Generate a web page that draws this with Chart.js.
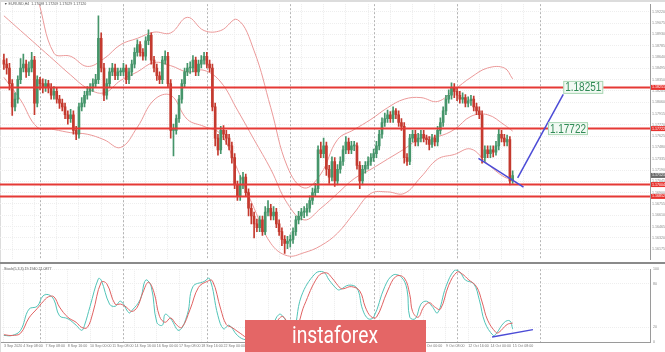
<!DOCTYPE html>
<html><head><meta charset="utf-8">
<script src="https://cdn.jsdelivr.net/npm/chart.js@4.4.1/dist/chart.umd.min.js"></script>
<style>
html,body{margin:0;padding:0;background:#fff;}
#wrap{position:relative;width:665px;height:352px;overflow:hidden;background:#fff;}
#c1{position:absolute;left:0;top:0;}
#c2{position:absolute;left:0;top:264px;}
</style></head><body>
<div id="wrap"><canvas id="c1" width="665" height="264"></canvas><canvas id="c2" width="665" height="88"></canvas></div>
<script>
// ---------- DATA ----------
const opens = [1.1860,
1.1855,1.1850,1.1830,1.1800,1.1810,1.1835, 1.1850,1.1855,1.1845,1.1850,1.1860,1.1805,
1.1835,1.1830,1.1825,1.1830,1.1825,1.1815, 1.1820,1.1810,1.1805,1.1800,1.1790,1.1785,
1.1790,1.1770,1.1765,1.1800,1.1805,1.1815, 1.1820,1.1825,1.1830,1.1835,1.1888,1.1850,
1.1815,1.1830,1.1845,1.1850,1.1840,1.1845, 1.1845,1.1850,1.1835,1.1845,1.1855,1.1870,
1.1880,1.1870,1.1865,1.1885,1.1892,1.1860, 1.1850,1.1840,1.1835,1.1860,1.1865,1.1830,
1.1770,1.1770,1.1785,1.1810,1.1830,1.1845, 1.1850,1.1850,1.1860,1.1845,1.1855,1.1860,
1.1865,1.1855,1.1850,1.1800,1.1760,1.1745, 1.1770,1.1765,1.1760,1.1750,1.1735,1.1700,
1.1685,1.1700,1.1710,1.1690,1.1670,1.1660, 1.1650,1.1645,1.1655,1.1640,1.1665,1.1670,
1.1660,1.1665,1.1650,1.1640,1.1630,1.1625, 1.1628,1.1630,1.1640,1.1655,1.1660,1.1665,
1.1665,1.1670,1.1680,1.1690,1.1695,1.1745, 1.1740,1.1750,1.1720,1.1710,1.1730,1.1705,
1.1720,1.1730,1.1745,1.1755,1.1745,1.1750, 1.1750,1.1725,1.1705,1.1720,1.1725,1.1730,
1.1735,1.1740,1.1750,1.1765,1.1780,1.1785, 1.1790,1.1785,1.1795,1.1790,1.1780,1.1775,
1.1735,1.1730,1.1760,1.1765,1.1755,1.1760, 1.1765,1.1760,1.1758,1.1752,1.1760,1.1755,
1.1770,1.1780,1.1795,1.1810,1.1815,1.1825, 1.1820,1.1815,1.1810,1.1812,1.1805,1.1808,
1.1810,1.1800,1.1795,1.1790,1.1735,1.1745, 1.1740,1.1745,1.1742,1.1750,1.1765,1.1760,
1.1755,1.1758,1.1705];
const closes = [1.1855,
1.1850,1.1830,1.1800,1.1810,1.1835,1.1850, 1.1855,1.1845,1.1850,1.1860,1.1805,1.1835,
1.1830,1.1825,1.1830,1.1825,1.1815,1.1820, 1.1810,1.1805,1.1800,1.1790,1.1785,1.1790,
1.1770,1.1765,1.1800,1.1805,1.1815,1.1820, 1.1825,1.1830,1.1835,1.1888,1.1850,1.1815,
1.1830,1.1845,1.1850,1.1840,1.1845,1.1845, 1.1850,1.1835,1.1845,1.1855,1.1870,1.1880,
1.1870,1.1865,1.1885,1.1892,1.1860,1.1850, 1.1840,1.1835,1.1860,1.1865,1.1830,1.1770,
1.1770,1.1785,1.1810,1.1830,1.1845,1.1850, 1.1850,1.1860,1.1845,1.1855,1.1860,1.1865,
1.1855,1.1850,1.1800,1.1760,1.1745,1.1770, 1.1765,1.1760,1.1750,1.1735,1.1700,1.1685,
1.1700,1.1710,1.1690,1.1670,1.1660,1.1650, 1.1645,1.1655,1.1640,1.1665,1.1670,1.1660,
1.1665,1.1650,1.1640,1.1630,1.1625,1.1628, 1.1630,1.1640,1.1655,1.1660,1.1665,1.1665,
1.1670,1.1680,1.1690,1.1695,1.1745,1.1740, 1.1750,1.1720,1.1710,1.1730,1.1705,1.1720,
1.1730,1.1745,1.1755,1.1745,1.1750,1.1750, 1.1725,1.1705,1.1720,1.1725,1.1730,1.1735,
1.1740,1.1750,1.1765,1.1780,1.1785,1.1790, 1.1785,1.1795,1.1790,1.1780,1.1775,1.1735,
1.1730,1.1760,1.1765,1.1755,1.1760,1.1765, 1.1760,1.1758,1.1752,1.1760,1.1755,1.1770,
1.1780,1.1795,1.1810,1.1815,1.1825,1.1820, 1.1815,1.1810,1.1812,1.1805,1.1808,1.1810,
1.1800,1.1795,1.1790,1.1735,1.1745,1.1740, 1.1745,1.1742,1.1750,1.1765,1.1760,1.1755,
1.1758,1.1705,1.1712];
const highs = [1.1868,
1.1862,1.1856,1.1835,1.1818,1.1840,1.1862, 1.1868,1.1860,1.1858,1.1870,1.1865,1.1840,
1.1838,1.1836,1.1835,1.1834,1.1830,1.1826, 1.1824,1.1815,1.1810,1.1805,1.1795,1.1797,
1.1795,1.1775,1.1805,1.1812,1.1820,1.1826, 1.1830,1.1836,1.1842,1.1917,1.1895,1.1856,
1.1836,1.1850,1.1856,1.1855,1.1850,1.1850, 1.1856,1.1854,1.1850,1.1860,1.1876,1.1886,
1.1884,1.1875,1.1890,1.1899,1.1895,1.1865, 1.1855,1.1845,1.1865,1.1872,1.1870,1.1835,
1.1778,1.1790,1.1815,1.1835,1.1850,1.1856, 1.1858,1.1866,1.1864,1.1860,1.1866,1.1870,
1.1870,1.1860,1.1855,1.1805,1.1765,1.1775, 1.1776,1.1770,1.1765,1.1755,1.1740,1.1705,
1.1712,1.1716,1.1714,1.1695,1.1676,1.1665, 1.1656,1.1660,1.1660,1.1672,1.1680,1.1675,
1.1672,1.1670,1.1655,1.1645,1.1635,1.1634, 1.1636,1.1645,1.1660,1.1666,1.1670,1.1672,
1.1676,1.1686,1.1696,1.1702,1.1750,1.1755, 1.1760,1.1755,1.1725,1.1736,1.1735,1.1726,
1.1736,1.1750,1.1762,1.1760,1.1756,1.1756, 1.1754,1.1730,1.1725,1.1730,1.1736,1.1740,
1.1746,1.1756,1.1770,1.1786,1.1792,1.1796, 1.1794,1.1800,1.1798,1.1795,1.1785,1.1780,
1.1740,1.1765,1.1770,1.1770,1.1766,1.1770, 1.1770,1.1764,1.1762,1.1765,1.1764,1.1775,
1.1786,1.1800,1.1815,1.1822,1.1831,1.1830, 1.1825,1.1820,1.1818,1.1816,1.1813,1.1815,
1.1814,1.1805,1.1800,1.1795,1.1750,1.1750, 1.1750,1.1750,1.1756,1.1772,1.1770,1.1765,
1.1764,1.1762,1.1718];
const lows = [1.1848,
1.1842,1.1822,1.1789,1.1795,1.1805,1.1830, 1.1845,1.1838,1.1840,1.1845,1.1790,1.1800,
1.1822,1.1818,1.1820,1.1818,1.1810,1.1810, 1.1805,1.1798,1.1795,1.1785,1.1778,1.1780,
1.1765,1.1758,1.1760,1.1795,1.1800,1.1810, 1.1815,1.1820,1.1826,1.1830,1.1845,1.1808,
1.1810,1.1825,1.1840,1.1835,1.1835,1.1840, 1.1840,1.1830,1.1830,1.1840,1.1850,1.1865,
1.1865,1.1860,1.1860,1.1880,1.1855,1.1845, 1.1834,1.1830,1.1830,1.1855,1.1825,1.1760,
1.1737,1.1765,1.1780,1.1805,1.1825,1.1840, 1.1843,1.1845,1.1840,1.1840,1.1850,1.1855,
1.1850,1.1845,1.1795,1.1750,1.1738,1.1740, 1.1758,1.1752,1.1745,1.1728,1.1695,1.1680,
1.1680,1.1695,1.1685,1.1660,1.1650,1.1632, 1.1640,1.1640,1.1635,1.1636,1.1660,1.1655,
1.1655,1.1645,1.1635,1.1622,1.1612,1.1618, 1.1620,1.1625,1.1635,1.1650,1.1655,1.1658,
1.1660,1.1665,1.1675,1.1685,1.1690,1.1735, 1.1735,1.1712,1.1702,1.1705,1.1698,1.1700,
1.1715,1.1725,1.1740,1.1740,1.1740,1.1744, 1.1720,1.1695,1.1700,1.1715,1.1720,1.1725,
1.1730,1.1735,1.1745,1.1760,1.1775,1.1780, 1.1780,1.1780,1.1785,1.1775,1.1770,1.1728,
1.1725,1.1726,1.1755,1.1750,1.1750,1.1755, 1.1755,1.1752,1.1745,1.1748,1.1750,1.1750,
1.1765,1.1775,1.1790,1.1805,1.1810,1.1812, 1.1808,1.1805,1.1805,1.1800,1.1800,1.1802,
1.1795,1.1790,1.1785,1.1728,1.1730,1.1735, 1.1735,1.1736,1.1738,1.1745,1.1755,1.1750,
1.1750,1.1700,1.1702];

// Bollinger bands at these bar indices
const bandIdx    = [0,6,12,18,24,30,36,42,48,54,60,66,72,78,84,90,96,102,108,114,120,126,132,138,144,150,156,162,168,174,180,183];
const bandUpper  = [1.2012,1.1993,1.1940,1.1869,1.1865,1.1852,1.1862,1.1880,1.1888,1.1896,1.1895,1.1915,1.1898,1.1898,1.1912,1.1872,1.1799,1.1723,1.1696,1.1714,1.1758,1.1771,1.1784,1.1799,1.1810,1.1812,1.1807,1.1822,1.1838,1.1850,1.1850,1.1836];
const bandMiddle = [1.1917,1.1898,1.1879,1.1860,1.1841,1.1824,1.1818,1.1834,1.1845,1.1857,1.1853,1.1845,1.1847,1.1832,1.1796,1.1758,1.1720,1.1676,1.1655,1.1670,1.1689,1.1708,1.1720,1.1733,1.1746,1.1760,1.1762,1.1771,1.1788,1.1790,1.1777,1.1769];
const bandLower  = [1.1838,1.1809,1.1774,1.1771,1.1767,1.1765,1.1758,1.1748,1.1774,1.1809,1.1815,1.1784,1.1775,1.1765,1.1720,1.1670,1.1625,1.1609,1.1613,1.1622,1.1638,1.1664,1.1689,1.1691,1.1689,1.1710,1.1733,1.1739,1.1746,1.1727,1.1710,1.1708];

// horizontal levels & drawn trend lines
const levels = [1.18251, 1.17722, 1.17004, 1.16852];
const targetLevels = [1.18251, 1.17722];
const lastPrice = 1.17121;
const trendDownIdx = [170.7, 186.9], trendDownPrice = [1.1734, 1.1697];
const trendUpIdx = [184.8, 201.2],   trendUpPrice = [1.1709, 1.1816];

// stochastic (5,3,3)
const stochMainIdx = [0,3,6,9,12,14,16,18,20,23,26,28,29,31,34,35,38,40,42,45,46,49,51,53,55,57,58,60,63,66,68,72,74,77,79,81,84,87,90,93,96,99,101,104,107,112,115,117,120,121,124,127,129,131,133,137,140,143,145,146,148,150,152,154,156,159,162,164,166,169,171,173,176,177,180,182,183];
const stochMainVal = [9,9,16,45,49,63,65,58,36,32,23,16,23,49,87,85,52,49,56,40,43,58,85,76,27,23,38,32,16,38,76,83,87,36,18,23,9,3,5,15,20,38,32,14,63,94,96,85,72,72,78,74,45,32,34,76,92,89,72,34,32,52,56,49,40,76,98,96,85,80,58,27,9,11,27,29,18];
const stochSigIdx = [0,3,6,9,12,14,16,18,20,23,26,28,30,32,35,37,40,42,44,46,48,50,52,54,56,58,60,62,64,67,70,73,75,78,80,82,85,88,91,94,97,100,102,105,108,113,116,118,121,122,125,128,130,132,134,138,141,144,146,147,149,151,153,155,157,160,163,165,167,170,172,174,177,178,181,183];
const stochSigVal = [10,9,12,33,46,55,62,62,48,34,27,20,20,40,82,80,52,52,48,42,48,68,82,68,35,27,33,24,20,45,75,83,84,45,24,20,12,5,6,13,22,35,28,20,50,90,95,88,74,73,76,70,48,35,34,70,90,88,65,42,34,48,54,48,45,78,96,93,86,76,55,30,13,13,24,26];
const stochTrendIdx = [175.6, 190.3], stochTrendVal = [7, 17];

// axes
const priceTicks = [1.19220,1.19075,1.18930,1.18785,1.18640,1.18495,1.18350,1.18205,1.18060,1.17915,1.17770,1.17625,1.17480,1.17335,1.17190,1.17045,1.16900,1.16755,1.16610,1.16465,1.16320,1.16175];
const stochTicks = [0,20,80,100];
const timeTickIdx = [0,7,15,23,31,39,47,55,63,71,79,87,95,103,111,119,127,135,143,151,159,167,175,183];
const timeTickLabels = ["3 Sep 2020","4 Sep 08:00","7 Sep 08:00","8 Sep 16:00","10 Sep 00:00","11 Sep 08:00","14 Sep 16:00","16 Sep 00:00","17 Sep 08:00","18 Sep 16:00","22 Sep 00:00","23 Sep 08:00","24 Sep 16:00","28 Sep 00:00","29 Sep 08:00","30 Sep 16:00","2 Oct 00:00","5 Oct 08:00","6 Oct 16:00","8 Oct 00:00","9 Oct 08:00","12 Oct 16:00","14 Oct 00:00","15 Oct 08:00"];
const weekStartIdx = [13,43,73,103,133,163,193];
const headerText = "\u25BC EURUSD,H4  1.17098 1.17209 1.17029 1.17120";
const stochText = "Stoch(5,3,3) 19.1940 21.0877";

// ---------- STYLE ----------
const XMIN = -1.4, XMAX = 232.4;
const PMIN = 1.16038, PMAX = 1.19319;
const GREEN = '#45956a', RED = '#c43a2f';
const BAND = '#eb9999', LEVEL = '#e53935', BLUE = '#4b4bd6';
const TINY = '3.6px "Liberation Sans"';

const candleCol = closes.map((c,i) => c >= opens[i] ? GREEN : RED);
const pts = (xs, ys) => xs.map((x,i) => ({x, y: ys[i]}));

const weekSep = {
  id:'weekSep',
  beforeDatasetsDraw(chart){
    const {ctx, chartArea:a, scales:{x}} = chart;
    ctx.save(); ctx.strokeStyle = '#b5b5b5'; ctx.lineWidth = 1; ctx.setLineDash([2,2]);
    weekStartIdx.forEach(i => { const px = Math.round(x.getPixelForValue(i)) + 0.5;
      if (px < a.right) { ctx.beginPath(); ctx.moveTo(px, a.top); ctx.lineTo(px, a.bottom); ctx.stroke(); } });
    ctx.restore();
  }
};
const whiteBg = {
  id:'whiteBg',
  beforeDraw(chart){ const c = chart.ctx; c.save(); c.fillStyle = '#fff'; c.fillRect(0,0,chart.width,chart.height); c.restore(); }
};

const mainDecor = {
  id:'mainDecor',
  beforeDraw(chart){
    const c = chart.ctx; c.save();
    c.fillStyle = '#dcdcdc'; c.fillRect(0,0,chart.width,2); c.fillRect(0,0,1,chart.height);
    c.restore();
  },
  afterDatasetsDraw(chart){
    const {ctx, scales:{x, y}} = chart;
    ctx.save();
    const boxAt = [201.2, 195.7];
    targetLevels.forEach((v, k) => {
      const px = x.getPixelForValue(boxAt[k]); const py = y.getPixelForValue(v);
      ctx.fillStyle = '#f2f9f3'; ctx.fillRect(px, py - 6.5, 40, 13);
      ctx.strokeStyle = '#a9d6b3'; ctx.lineWidth = 1; ctx.strokeRect(px + 0.5, py - 6, 39, 12);
      ctx.fillStyle = '#2f8a55'; ctx.font = '12.5px "Liberation Sans"';
      ctx.textBaseline = 'middle'; ctx.textAlign = 'left';
      ctx.fillText(v.toFixed(5), px + 2, py + 0.5, 36);
    });
    ctx.restore();
  },
  afterDraw(chart){
    const {ctx, chartArea:a, scales:{y}} = chart;
    ctx.save();
    ctx.font = TINY; ctx.textBaseline = 'middle'; ctx.textAlign = 'left';
    levels.forEach(v => { const py = y.getPixelForValue(v);
      ctx.fillStyle = '#e8332f'; ctx.fillRect(a.right + 1, py - 2.5, 14, 5);
      ctx.fillStyle = '#fff'; ctx.fillText(v.toFixed(5), a.right + 2, py); });
    const lp = y.getPixelForValue(lastPrice);
    ctx.fillStyle = '#6b6b6b'; ctx.fillRect(a.right + 1, lp - 2.5, 14, 5);
    ctx.fillStyle = '#fff'; ctx.fillText(lastPrice.toFixed(5), a.right + 2, lp);
    ctx.fillStyle = '#555'; ctx.fillText(headerText, 4, 4);
    ctx.fillStyle = '#8a8a8a'; ctx.fillRect(0, chart.height - 2, chart.width, 2);
    ctx.restore();
  }
};

new Chart(document.getElementById('c1'), {
  type: 'bar',
  data: { datasets: [
    { type:'line', data: pts(trendUpIdx, trendUpPrice), borderColor: BLUE, borderWidth: 1.5, pointRadius: 0, order: 0 },
    { type:'line', data: pts(trendDownIdx, trendDownPrice), borderColor: BLUE, borderWidth: 1.5, pointRadius: 0, order: 0 },
    ...levels.map(v => ({ type:'line', data: [{x:XMIN, y:v},{x:XMAX, y:v}], borderColor: LEVEL, borderWidth: 2, pointRadius: 0, order: 1 })),
    { type:'bar', data: closes.map((c,i) => ({x:i, y:[opens[i], c]})), backgroundColor: candleCol, barThickness: 2, minBarLength: 1, grouped: false, order: 2 },
    { type:'bar', data: closes.map((c,i) => ({x:i, y:[lows[i], highs[i]]})), backgroundColor: candleCol, barThickness: 1, grouped: false, order: 3 },
    { type:'line', data: pts(bandIdx, bandUpper), borderColor: BAND, borderWidth: 1, pointRadius: 0, tension: 0.4, order: 4 },
    { type:'line', data: pts(bandIdx, bandMiddle), borderColor: BAND, borderWidth: 1, pointRadius: 0, tension: 0.4, order: 4 },
    { type:'line', data: pts(bandIdx, bandLower), borderColor: BAND, borderWidth: 1, pointRadius: 0, tension: 0.4, order: 4 }
  ]},
  options: {
    responsive: false, animation: false, devicePixelRatio: 1, events: [],
    layout: { padding: { top: 2, bottom: 2, left: 0, right: 0 } },
    plugins: { legend: { display: false }, tooltip: { enabled: false } },
    scales: {
      x: { type: 'linear', min: XMIN, max: XMAX, offset: false,
        afterBuildTicks: s => { s.ticks = timeTickIdx.slice(1).map(v => ({value: v})); },
        afterFit: s => { s.height = 0; },
        ticks: { display: false }, grid: { color: '#ededed', drawTicks: false }, border: { display: false, dash: [1,1] } },
      y: { position: 'right', min: PMIN, max: PMAX,
        afterBuildTicks: s => { s.ticks = priceTicks.map(v => ({value: v})); },
        afterFit: s => { s.width = 15; },
        ticks: { font: { size: 3.6, family: 'Liberation Sans' }, color: '#8a8a8a', padding: 2, autoSkip: false, callback: v => v.toFixed(5) },
        grid: { color: '#eeeeee', drawTicks: false }, border: { color: '#9a9a9a', dash: [1,1] } }
    }
  },
  plugins: [whiteBg, weekSep, mainDecor]
});

const stochDecor = {
  id:'stochDecor',
  afterDraw(chart){
    const c = chart.ctx; c.save();
    c.fillStyle = '#dcdcdc'; c.fillRect(0,0,1,chart.height);
    c.font = TINY; c.fillStyle = '#555'; c.textBaseline = 'middle'; c.fillText(stochText, 4, 5);
    c.fillStyle = '#e46666'; c.fillRect(245, 56, 181, 32);
    c.fillStyle = '#ffffff'; c.font = '24px "Roboto"'; c.textAlign = 'center'; c.textBaseline = 'alphabetic';
    c.fillText('instaforex', 335, 79, 86);
    c.restore();
  }
};

new Chart(document.getElementById('c2'), {
  type: 'line',
  data: { datasets: [
    { data: pts(stochTrendIdx, stochTrendVal), borderColor: BLUE, borderWidth: 1.5, pointRadius: 0 },
    { data: pts(stochSigIdx, stochSigVal), borderColor: '#e06262', borderWidth: 1, pointRadius: 0, tension: 0.4 },
    { data: pts(stochMainIdx, stochMainVal), borderColor: '#52c4b8', borderWidth: 1, pointRadius: 0, tension: 0.4 }
  ]},
  options: {
    responsive: false, animation: false, devicePixelRatio: 1, events: [],
    layout: { padding: { top: 3, bottom: 0, left: 0, right: 0 } },
    plugins: { legend: { display: false }, tooltip: { enabled: false } },
    scales: {
      x: { type: 'linear', min: XMIN, max: XMAX, offset: false,
        afterBuildTicks: s => { s.ticks = timeTickIdx.map(v => ({value: v})); },
        afterFit: s => { s.height = 10; },
        ticks: { font: { size: 3.6, family: 'Liberation Sans' }, color: '#777', align: 'start', maxRotation: 0, autoSkip: false, padding: 2,
          callback: (v, i) => timeTickLabels[i] },
        grid: { color: '#ededed', drawTicks: false }, border: { color: '#9a9a9a', dash: [1,1] } },
      y: { position: 'right', min: 0, max: 100,
        afterBuildTicks: s => { s.ticks = stochTicks.map(v => ({value: v})); },
        afterFit: s => { s.width = 15; },
        ticks: { font: { size: 3.6, family: 'Liberation Sans' }, color: '#8a8a8a', padding: 3, autoSkip: false },
        grid: { color: '#eeeeee', drawTicks: false }, border: { color: '#9a9a9a', dash: [1,1] } }
    }
  },
  plugins: [whiteBg, weekSep, stochDecor]
});
</script>
</body></html>
